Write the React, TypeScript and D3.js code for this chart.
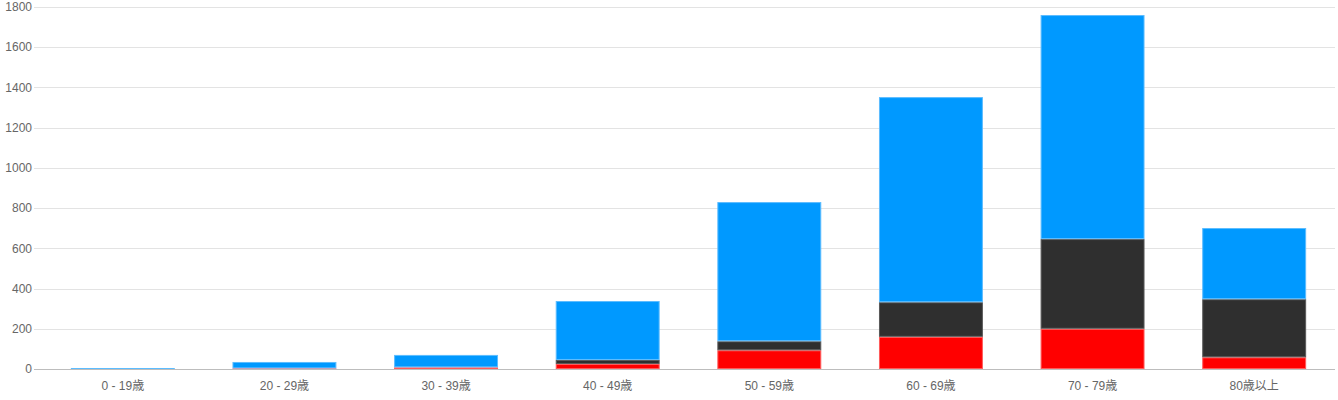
import React from "react";
import * as d3 from "d3";

const categories = ["0 - 19歳", "20 - 29歳", "30 - 39歳", "40 - 49歳", "50 - 59歳", "60 - 69歳", "70 - 79歳", "80歳以上"];
const redValues = [0, 3, 8, 25, 93, 160, 200, 58];
const darkValues = [0, 0, 0, 20, 45, 172, 446, 289];
const blueValues = [5, 32, 62, 293, 692, 1020, 1114, 354];
const yTicks = [0, 200, 400, 600, 800, 1000, 1200, 1400, 1600, 1800];

const seriesDefs = [
  { key: "red", values: redValues, fill: "#ff0000", stroke: "#ff5a5a" },
  { key: "dark", values: darkValues, fill: "#2f2f2f", stroke: "#5a5a5a" },
  { key: "blue", values: blueValues, fill: "#0099ff", stroke: "#5cbcff" },
];

const W = 1338;
const H = 400;
const plotLeft = 42;
const plotRight = 1335;
const plotTop = 7;
const plotBottom = 369;

export default function App() {
  React.useEffect(() => {
    document.body.style.margin = "0";
  }, []);

  const x = d3.scaleBand<string>().domain(categories).range([plotLeft, plotRight]).paddingInner(0.357).paddingOuter(0.1785);
  const y = d3.scaleLinear().domain([0, 1800]).range([plotBottom, plotTop]);

  const data = categories.map((c, i) => ({ c, red: redValues[i], dark: darkValues[i], blue: blueValues[i] }));
  const stack = d3.stack<any>().keys(seriesDefs.map((s) => s.key));
  const stacked = stack(data);

  const font = "'Liberation Sans', Arial, 'Noto Sans CJK JP', sans-serif";

  return (
    <svg width={W} height={H} style={{ display: "block", background: "#fff" }}>
      {yTicks.map((t) => (
        <g key={t}>
          <line x1={34} x2={plotRight} y1={Math.round(y(t)) + 0.5} y2={Math.round(y(t)) + 0.5} stroke={t === 0 ? "#bdbdbd" : "#e3e3e3"} strokeWidth={1} />
          <text x={32} y={y(t)} dy="0.35em" textAnchor="end" fontSize={12} fill="#666" fontFamily={font}>
            {t}
          </text>
        </g>
      ))}
      {stacked.map((layer, li) => {
        const def = seriesDefs[li];
        return (
          <g key={def.key}>
            {layer.map((d, i) => {
              const h = y(d[0]) - y(d[1]);
              if (h <= 0) return null;
              return (
                <rect
                  key={i}
                  x={x(categories[i])! + 0.5}
                  y={y(d[1]) + 0.5}
                  width={x.bandwidth() - 1}
                  height={Math.max(h - 1, 0.5)}
                  fill={def.fill}
                  stroke={def.stroke}
                  strokeWidth={1}
                />
              );
            })}
          </g>
        );
      })}
      <line x1={34} x2={plotRight} y1={plotBottom + 0.5} y2={plotBottom + 0.5} stroke="#bdbdbd" strokeWidth={1} />
      {categories.map((c) => (
        <text key={c} x={x(c)! + x.bandwidth() / 2} y={390} textAnchor="middle" fontSize={12} fill="#666" fontFamily={font}>
          {c}
        </text>
      ))}
    </svg>
  );
}
